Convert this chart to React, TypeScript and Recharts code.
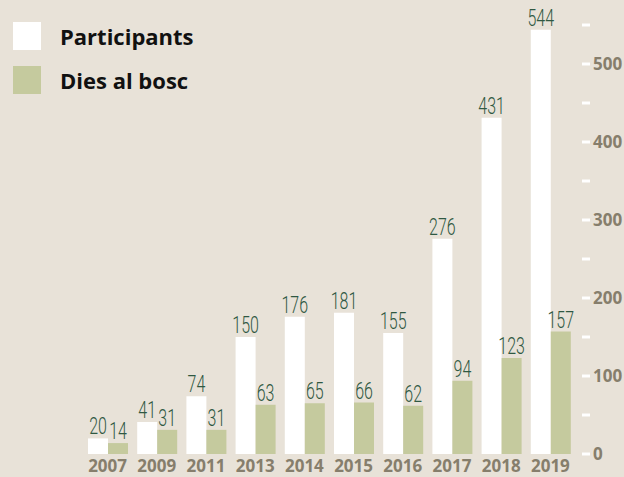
import React from 'react';
import { BarChart, Bar, XAxis, YAxis, Legend, LabelList } from 'recharts';

const years = ['2007', '2009', '2011', '2013', '2014', '2015', '2016', '2017', '2018', '2019'];
const participants = [20, 41, 74, 150, 176, 181, 155, 276, 431, 544];
const diesAlBosc = [14, 31, 31, 63, 65, 66, 62, 94, 123, 157];
const yTicks = [0, 50, 100, 150, 200, 250, 300, 350, 400, 450, 500, 550];
const legendOrder = ['participants', 'dies'];

const data = years.map((y, i) => ({ year: y, participants: participants[i], dies: diesAlBosc[i] }));

const BG = '#e8e2d8';
const GREEN = '#c5ca9e';
const LABEL = '#2f5842';
const AXIS = '#867e6c';

const ValueLabel = (props: any) => {
  const { x, y, width, value } = props;
  const cx = Number(x) + Number(width) / 2;
  return (
    <g transform={`translate(${cx},${Number(y) - 4}) scale(0.68,1)`}>
      <text
        x={0}
        y={0}
        textAnchor="middle"
        fontFamily="Roboto, 'DejaVu Sans Condensed', sans-serif"
        fontWeight={300}
        fontSize={23.5}
        fill={LABEL}
      >
        {value}
      </text>
    </g>
  );
};

const YTick = (props: any) => {
  const { x, y, payload } = props;
  const major = payload.value % 100 === 0;
  return (
    <g>
      <line x1={x + 7} x2={x + 15} y1={y} y2={y} stroke="#ffffff" strokeWidth={3} />
      {major && (
        <text
          x={x + 18}
          y={y}
          dy="0.36em"
          textAnchor="start"
          fontFamily="'Open Sans', sans-serif"
          fontWeight={700}
          fontSize={17}
          fill={AXIS}
        >
          {payload.value}
        </text>
      )}
    </g>
  );
};

const LegendContent = (props: any) => {
  const items = [...(props.payload || [])].sort(
    (a: any, b: any) => legendOrder.indexOf(a.dataKey) - legendOrder.indexOf(b.dataKey)
  );
  return (
    <div style={{ position: 'relative', width: 220, height: 100 }}>
      {items.map((it: any, i: number) => (
        <div key={i} style={{ position: 'absolute', left: 13, top: 22 + i * 44, height: 28, display: 'flex', alignItems: 'center' }}>
          <div style={{ width: 28, height: 28, background: it.color }} />
          <span
            style={{
              marginLeft: 19,
              fontFamily: "'Open Sans', sans-serif",
              fontWeight: 700,
              fontSize: 22,
              color: '#111111',
              lineHeight: '28px',
              whiteSpace: 'nowrap',
            }}
          >
            {it.value}
          </span>
        </div>
      ))}
    </div>
  );
};

export default function App() {
  return (
    <div style={{ position: 'absolute', left: 0, top: 0, width: 624, height: 477, background: BG, overflow: 'hidden' }}>
      <BarChart
        width={624}
        height={477}
        data={data}
        margin={{ top: 25, right: 0, left: 83, bottom: 0 }}
        barGap={0}
        barSize={20}
      >
        <XAxis
          dataKey="year"
          axisLine={false}
          tickLine={false}
          tickSize={0}
          tickMargin={6}
          height={23}
          interval={0}
          tick={{ fontFamily: "'Open Sans', sans-serif", fontWeight: 700, fontSize: 17, fill: AXIS }}
        />
        <YAxis
          orientation="right"
          domain={[0, 550]}
          ticks={yTicks}
          interval={0}
          axisLine={false}
          tickLine={false}
          tickSize={0}
          tickMargin={0}
          width={49}
          tick={<YTick />}
        />
        <Legend
          layout="vertical"
          align="center"
          verticalAlign="middle"
          wrapperStyle={{ left: 0, top: 0, width: 220, height: 100 }}
          content={<LegendContent />}
        />
        <Bar dataKey="participants" name="Participants" fill="#ffffff" isAnimationActive={false}>
          <LabelList dataKey="participants" content={<ValueLabel />} />
        </Bar>
        <Bar dataKey="dies" name="Dies al bosc" fill={GREEN} isAnimationActive={false}>
          <LabelList dataKey="dies" content={<ValueLabel />} />
        </Bar>
      </BarChart>
    </div>
  );
}
